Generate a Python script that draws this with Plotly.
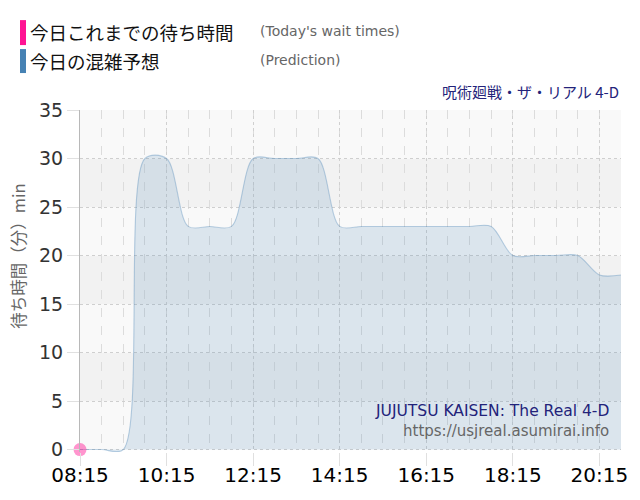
import plotly.graph_objects as go

# ---- data ----
times = ["08:15", "08:45", "09:15", "09:45", "10:15", "10:45", "11:15", "11:45",
         "12:15", "12:45", "13:15", "13:45", "14:15", "14:45", "15:15", "15:45",
         "16:15", "16:45", "17:15", "17:45", "18:15", "18:45", "19:15", "19:45",
         "20:15", "20:45"]
prediction = [0, 0, 0, 30, 30, 23, 23, 23, 30, 30, 30, 30, 23, 23, 23, 23,
              23, 23, 23, 23, 20, 20, 20, 20, 18, 18]
actual_times = ["08:15"]
actual_values = [0]
tick_labels = ["08:15", "10:15", "12:15", "14:15", "16:15", "18:15", "20:15"]
y_ticks = [0, 5, 10, 15, 20, 25, 30, 35]

DAY = "2024-01-01 "
def ts(t):
    return DAY + t + ":00"

L, R, T, B = 80, 19, 110, 47.6
PW, PH = 640 - L - R, 500 - T - B

def px(x):
    return (x - L) / PW

def py(y):
    return (500 - B - y) / PH

fig = go.Figure()

fig.add_trace(go.Scatter(
    x=[ts(t) for t in times], y=prediction,
    mode="lines", line=dict(color="rgba(70,130,180,0.35)", width=1.1, shape="spline", smoothing=0.9),
    fill="tozeroy", fillcolor="rgba(70,130,180,0.17)",
    hoverinfo="skip", showlegend=False,
))
fig.add_trace(go.Scatter(
    x=[ts(t) for t in actual_times], y=actual_values,
    mode="markers", marker=dict(color="rgba(255,20,147,0.45)", size=13),
    cliponaxis=False, hoverinfo="skip", showlegend=False,
))

# alternating background bands
shapes = []
for lo in range(0, 35, 5):
    col = "#f9f9f9" if (lo // 5) % 2 == 0 else "#f2f2f2"
    shapes.append(dict(type="rect", xref="paper", yref="y", x0=0, x1=1, y0=lo, y1=lo + 5,
                       fillcolor=col, line=dict(width=0), layer="below"))
# legend colour bars
shapes.append(dict(type="rect", xref="paper", yref="paper",
                   x0=px(20), x1=px(26), y0=py(45), y1=py(20),
                   fillcolor="#ff1493", line=dict(width=0)))
shapes.append(dict(type="rect", xref="paper", yref="paper",
                   x0=px(20), x1=px(26), y0=py(73), y1=py(49),
                   fillcolor="#4682b4", line=dict(width=0)))

def note(text, x, y, anchor, size, color, family, angle=0):
    return dict(text=text, x=px(x), y=py(y), xref="paper", yref="paper",
                xanchor=anchor, yanchor="middle", showarrow=False, textangle=angle,
                font=dict(size=size, color=color, family=family))

ann = [
    note("今日これまでの待ち時間", 28, 32, "left", 18.5, "#111", "Noto Sans CJK JP"),
    note("(Today's wait times)", 258, 31, "left", 14, "#666", "DejaVu Sans"),
    note("今日の混雑予想", 28, 61, "left", 18.5, "#111", "Noto Sans CJK JP"),
    note("(Prediction)", 258, 60, "left", 14, "#666", "DejaVu Sans"),
    note("呪術廻戦・ザ・リアル 4-D", 621, 91, "right", 15, "#23237a", "Noto Sans CJK JP"),
    note("JUJUTSU KAISEN: The Real 4-D", 611, 411, "right", 15.5, "#23237a", "DejaVu Sans"),
    note("https://usjreal.asumirai.info", 611, 431, "right", 15, "#666", "DejaVu Sans"),
    note("待ち時間（分）min", 18, 257, "center", 16.5, "#666", "Noto Sans CJK JP", -90),
]

fig.update_layout(
    width=640, height=500,
    margin=dict(l=L, r=R, t=T, b=B, pad=0, autoexpand=False),
    paper_bgcolor="white", plot_bgcolor="white",
    shapes=shapes, annotations=ann,
    showlegend=False,
    xaxis=dict(
        type="date", automargin=False,
        range=[ts(times[0]), ts(times[-1])],
        tickvals=[ts(t) for t in tick_labels], ticktext=tick_labels,
        tickfont=dict(size=20, color="#000", family="DejaVu Sans"),
        ticks="outside", ticklen=13, tickcolor="#e0e0e0", ticklabelstandoff=-8,
        showgrid=True, gridcolor="#d0d0d0", griddash="dot", gridwidth=1,
        minor=dict(dtick=1800000, tick0=ts("08:15"), showgrid=True,
                   gridcolor="#dcdcdc", griddash="dash", gridwidth=1),
        zeroline=False, showline=False, fixedrange=True,
    ),
    yaxis=dict(
        range=[-0.25, 35], tickvals=y_ticks, automargin=False,
        tickfont=dict(size=19, color="#333", family="DejaVu Sans"),
        ticks="outside", ticklen=12, tickcolor="#e0e0e0",
        showgrid=True, gridcolor="#cfcfcf", griddash="dot", gridwidth=1,
        zeroline=False, showline=True, linecolor="#b8b8b8", linewidth=1,
    ),
)

fig.write_html("out.html")
